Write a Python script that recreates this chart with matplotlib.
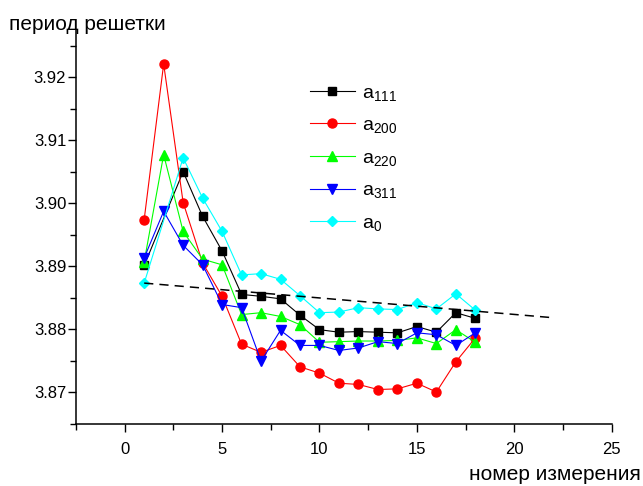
import matplotlib
matplotlib.use("Agg")
import matplotlib.pyplot as plt
from matplotlib.ticker import MultipleLocator, FormatStrFormatter

plt.rcParams['font.family'] = ['Liberation Sans', 'DejaVu Sans']

# ---- data ----
x_full = [1, 2, 3, 4, 5, 6, 7, 8, 9, 10, 11, 12, 13, 14, 15, 16, 17, 18]
x_skip2 = [1, 3, 4, 5, 6, 7, 8, 9, 10, 11, 12, 13, 14, 15, 16, 17, 18]

a111 = [3.8901, 3.9050, 3.8979, 3.8924, 3.8855, 3.8852, 3.8848, 3.8822, 3.8799,
        3.8795, 3.8796, 3.8795, 3.8794, 3.8804, 3.8795, 3.8826, 3.8817]
a200 = [3.8974, 3.9221, 3.9001, 3.8905, 3.8852, 3.8776, 3.8763, 3.8774, 3.8740,
        3.8730, 3.8714, 3.8712, 3.8704, 3.8705, 3.8714, 3.8700, 3.8748, 3.8786]
a220 = [3.8907, 3.9077, 3.8955, 3.8911, 3.8902, 3.8823, 3.8826, 3.8820, 3.8807,
        3.8779, 3.8780, 3.8781, 3.8781, 3.8782, 3.8786, 3.8777, 3.8799, 3.8779]
a311 = [3.8913, 3.8987, 3.8933, 3.8902, 3.8839, 3.8834, 3.8749, 3.8798, 3.8774,
        3.8774, 3.8766, 3.8770, 3.8780, 3.8777, 3.8794, 3.8791, 3.8774, 3.8794]
a0 = [3.8873, 3.9072, 3.9008, 3.8955, 3.8886, 3.8888, 3.8879, 3.8853, 3.8826,
      3.8827, 3.8834, 3.8832, 3.8831, 3.8842, 3.8832, 3.8856, 3.8830]

trend_x = [1, 22]
trend_y = [3.8873, 3.8818]

labels = [r'$\mathregular{a_{111}}$', r'$\mathregular{a_{200}}$',
          r'$\mathregular{a_{220}}$', r'$\mathregular{a_{311}}$',
          r'$\mathregular{a_{0}}$']

xlabel = 'номер измерения'
ylabel = 'период решетки'

# ---- figure ----
fig = plt.figure(figsize=(6.43, 4.86), dpi=100)
ax = fig.add_axes([0.1182, 0.1286, 0.9513 - 0.1182, 0.9383 - 0.1286])

lw = 0.8
ax.plot(x_skip2, a111, color='#000000', marker='s', ms=6, lw=lw, label=labels[0])
ax.plot(x_full, a200, color='#FF0000', marker='o', ms=6.5, lw=lw, label=labels[1])
ax.plot(x_full, a220, color='#00FF00', marker='^', ms=7, lw=lw, label=labels[2])
ax.plot(x_full, a311, color='#0000FF', marker='v', ms=7, lw=lw, label=labels[3])
ax.plot(x_skip2, a0, color='#00FFFF', marker='D', ms=5, lw=lw, label=labels[4])
ax.plot(trend_x, trend_y, color='black', lw=1.1, dashes=(6, 4))

ax.set_xlim(-2.5, 25)
ax.set_ylim(3.865, 3.9275)

for s in ['top', 'right']:
    ax.spines[s].set_visible(False)
for s in ['left', 'bottom']:
    ax.spines[s].set_linewidth(1.1)

ax.xaxis.set_major_locator(MultipleLocator(5))
ax.xaxis.set_minor_locator(MultipleLocator(2.5))
ax.yaxis.set_major_locator(MultipleLocator(0.01))
ax.yaxis.set_minor_locator(MultipleLocator(0.005))
ax.yaxis.set_major_formatter(FormatStrFormatter('%.2f'))

ax.tick_params(axis='both', which='major', direction='out', length=6, width=1.0,
               labelsize=12)
ax.tick_params(axis='both', which='minor', direction='out', length=4, width=1.0)
ax.tick_params(axis='x', which='major', pad=7)
ax.tick_params(axis='y', which='major', pad=1)

fig.text(9 / 643, 1 - 25 / 486, ylabel, fontsize=15, ha='left', va='center')
fig.text(641 / 643, 1 - 474 / 486, xlabel, fontsize=15, ha='right', va='center')

leg = ax.legend(loc='upper left', bbox_to_anchor=((310 - 76) / (611.7 - 76), 1 - (84 - 30) / (423.5 - 30)),
                frameon=False, fontsize=14, handlelength=2.3, handletextpad=0.35,
                labelspacing=0.72, borderaxespad=0, borderpad=0)

fig.savefig('out.png', dpi=100)
